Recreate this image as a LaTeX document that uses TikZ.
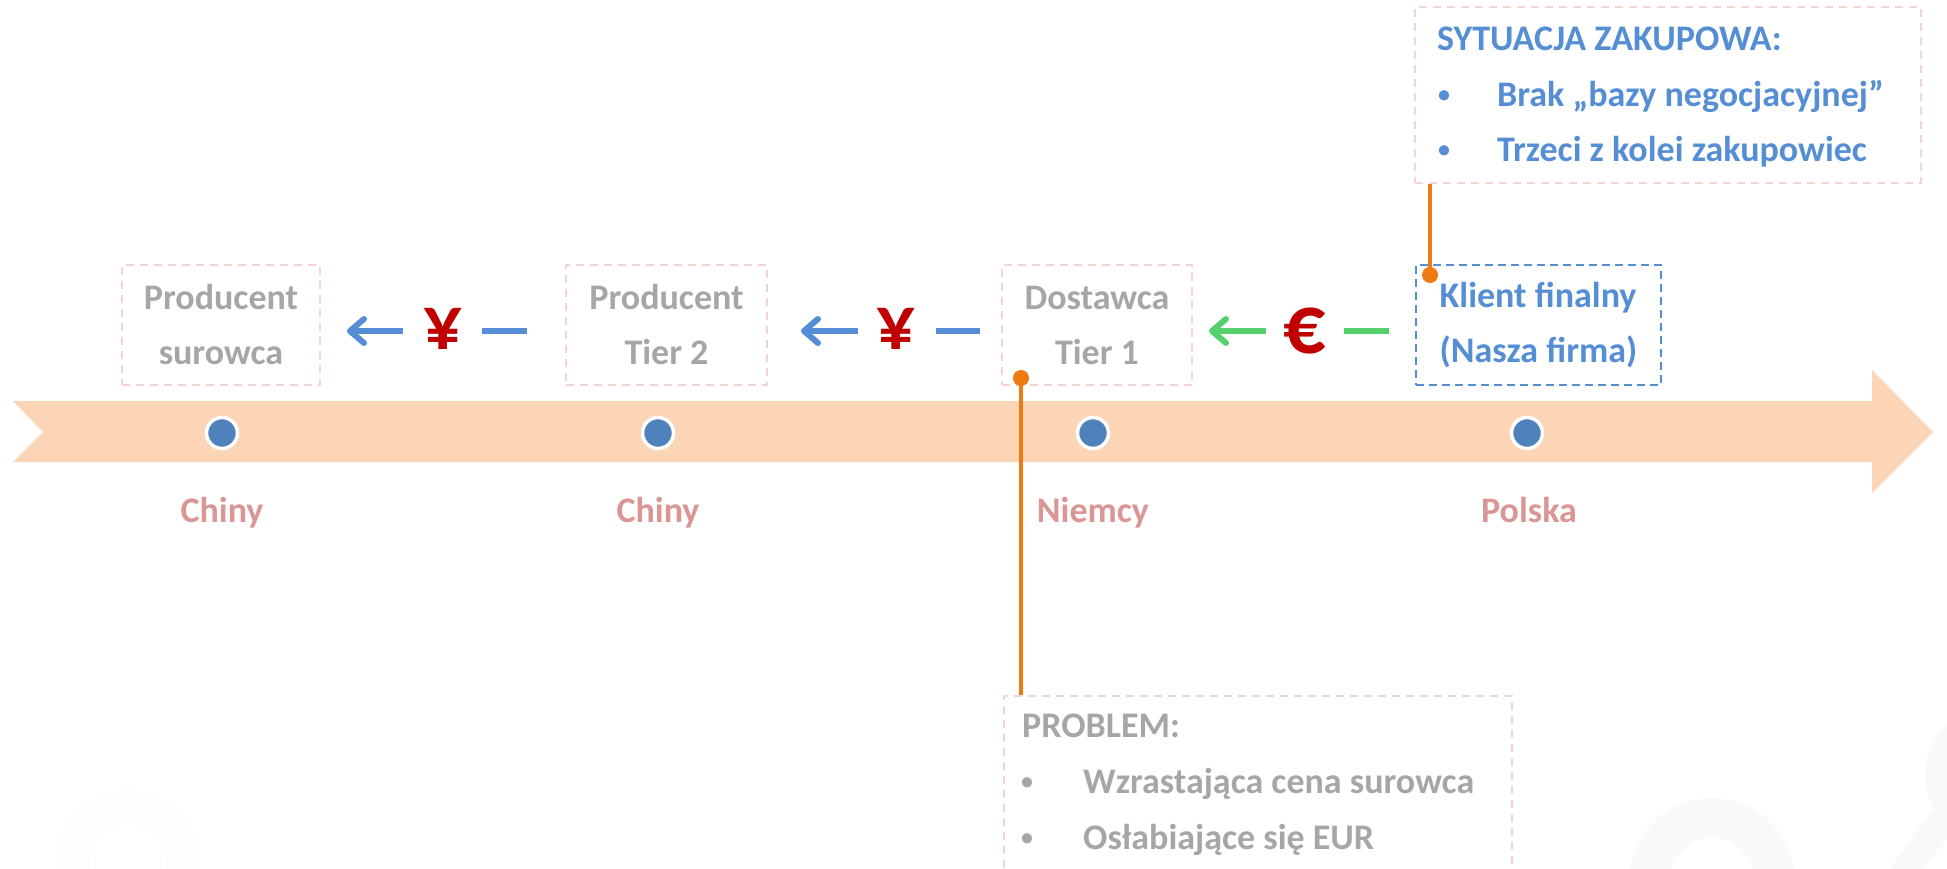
\documentclass[tikz,border=0pt]{standalone}
\usepackage{fontspec}
\setmainfont{Carlito}
\usetikzlibrary{arrows.meta}
\definecolor{band}{HTML}{FBD5B5}
\definecolor{dotblue}{HTML}{4F81BD}
\definecolor{pinkdash}{HTML}{F2D4D3}
\definecolor{greytxt}{HTML}{A6A6A6}
\definecolor{country}{HTML}{D99694}
\definecolor{myblue}{HTML}{558ED5}
\definecolor{mygreen}{HTML}{55D06C}
\definecolor{cur}{HTML}{C00000}
\definecolor{orng}{HTML}{F07A12}
\definecolor{wm1}{HTML}{FDFDFD}
\definecolor{wm2}{HTML}{F9F9F9}
\newcommand{\bul}{{\fontsize{24}{24}\selectfont\raisebox{4pt}{•}}}
\begin{document}
\begin{tikzpicture}[x=1pt,y=-1pt,
  txt/.style={font=\fontsize{36}{55}\selectfont\bfseries},
  pbox/.style={draw=pinkdash, line width=1.6pt, dash pattern=on 8pt off 6pt, txt, text=greytxt, align=center, minimum height=120pt, inner sep=0pt},
  bbox/.style={draw=myblue, line width=1.8pt, dash pattern=on 8pt off 5pt, txt, text=myblue, align=left, minimum height=120pt, inner sep=0pt},
  frame/.style={draw=pinkdash, line width=1.6pt, dash pattern=on 8pt off 6pt, inner sep=0pt},
  bdot/.style={circle, fill=dotblue, draw=white, line width=3.5pt, minimum size=31pt, inner sep=0pt},
  ctry/.style={txt, text=country, anchor=base, inner sep=0pt},
  yen/.style={font=\fontsize{77}{77}\selectfont\bfseries, text=cur, inner sep=0pt},
  euro/.style={font=\fontsize{84}{84}\selectfont\bfseries, text=cur, inner sep=0pt},
  barr/.style={draw=myblue, line width=6pt, -{Straight Barb[length=14pt,width=24pt,line cap=round,round]}},
  bdash/.style={draw=myblue, line width=6pt},
  garr/.style={draw=mygreen, line width=6pt, -{Straight Barb[length=14pt,width=24pt,line cap=round,round]}},
  gdash/.style={draw=mygreen, line width=6pt},
  odot/.style={circle, fill=orng, minimum size=16pt, inner sep=0pt},
  oline/.style={draw=orng, line width=4pt},
  ltxt/.style={txt, anchor=base west, inner sep=0pt}
]
\useasboundingbox (0,0) rectangle (1947,869);
\clip (0,0) rectangle (1947,869);
% faint watermark
\fill[wm1, even odd rule] (128,862) circle[radius=72] (128,862) circle[radius=38];
\fill[wm2, even odd rule] (1712,880) circle[radius=82] (1712,880) circle[radius=42];
\draw[wm2, line width=28pt] (1885,900) -- (1960,795);
\fill[wm2, even odd rule] (1995,775) circle[radius=70] (1995,775) circle[radius=40];

% timeline band
\fill[band] (13,401) -- (1872,401) -- (1872,370) -- (1933,432) -- (1872,493) -- (1872,462) -- (13,462) -- (43,432) -- cycle;

% dots
\node[bdot] (d1) at (222,433) {};
\node[bdot] (d2) at (658,433) {};
\node[bdot] (d3) at (1093,433) {};
\node[bdot] (d4) at (1527,433) {};

% countries
\node[ctry] (c1) at (222,522) {Chiny};
\node[ctry] (c2) at (658,522) {Chiny};
\node[ctry] (c3) at (1093,522) {Niemcy};
\node[ctry] (c4) at (1529,522) {Polska};

% boxes
\node[pbox, minimum width=198pt] (b1) at (221,325) {Producent\\surowca};
\node[pbox, minimum width=201pt] (b2) at (666.5,325) {Producent\\Tier 2};
\node[pbox, minimum width=190pt] (b3) at (1097,325) {Dostawca\\Tier 1};
\node[bbox, minimum width=245pt] (b4) at (1538.5,325) {Klient finalny\\(Nasza firma)};

% currency flows
\node[yen] (y1) at (443,329) {¥};
\node[yen] (y2) at (896,329) {¥};
\node[euro] (e1) at (1305,331) {€};
\coordinate (a1s) at (403,331); \coordinate (a1e) at (347,331);
\coordinate (l1s) at (482,331); \coordinate (l1e) at (527,331);
\coordinate (a2s) at (858,331); \coordinate (a2e) at (801,331);
\coordinate (l2s) at (936,331); \coordinate (l2e) at (980,331);
\coordinate (a3s) at (1266,331); \coordinate (a3e) at (1209,331);
\coordinate (l3s) at (1344,331); \coordinate (l3e) at (1389,331);
\draw[barr] (a1s) -- (a1e);
\draw[bdash] (l1s) -- (l1e);
\draw[barr] (a2s) -- (a2e);
\draw[bdash] (l2s) -- (l2e);
\draw[garr] (a3s) -- (a3e);
\draw[gdash] (l3s) -- (l3e);

% situation box
\node[frame, minimum width=506pt, minimum height=176pt] (sit) at (1668,95) {};
\node[ltxt, text=myblue] (sith) at (1437,51) {SYTUACJA ZAKUPOWA:};
\node[ltxt, text=myblue] (sitb1) at (1438,107) {\bul};
\node[ltxt, text=myblue] (sitt1) at (1497,107) {Brak „bazy negocjacyjnej”};
\node[ltxt, text=myblue] (sitb2) at (1438,162) {\bul};
\node[ltxt, text=myblue] (sitt2) at (1497,162) {Trzeci z kolei zakupowiec};

% problem box
\node[frame, minimum width=508pt, minimum height=220pt, anchor=north west] (prob) at (1003,695) {};
\node[ltxt, text=greytxt] (probh) at (1022,737) {PROBLEM:};
\node[ltxt, text=greytxt] (probb1) at (1021,793) {\bul};
\node[ltxt, text=greytxt] (probt1) at (1083,793) {Wzrastająca cena surowca};
\node[ltxt, text=greytxt] (probb2) at (1021,849) {\bul};
\node[ltxt, text=greytxt] (probt2) at (1083,849) {Osłabiające się EUR};

% orange connectors
\node[odot] (o1) at (1021,378) {};
\draw[oline] (o1.center) -- (o1.center |- prob.north);
\node[odot] (o2) at (1430,275) {};
\draw[oline] (o2.center) -- (o2.center |- sit.south);
\end{tikzpicture}
\end{document}
